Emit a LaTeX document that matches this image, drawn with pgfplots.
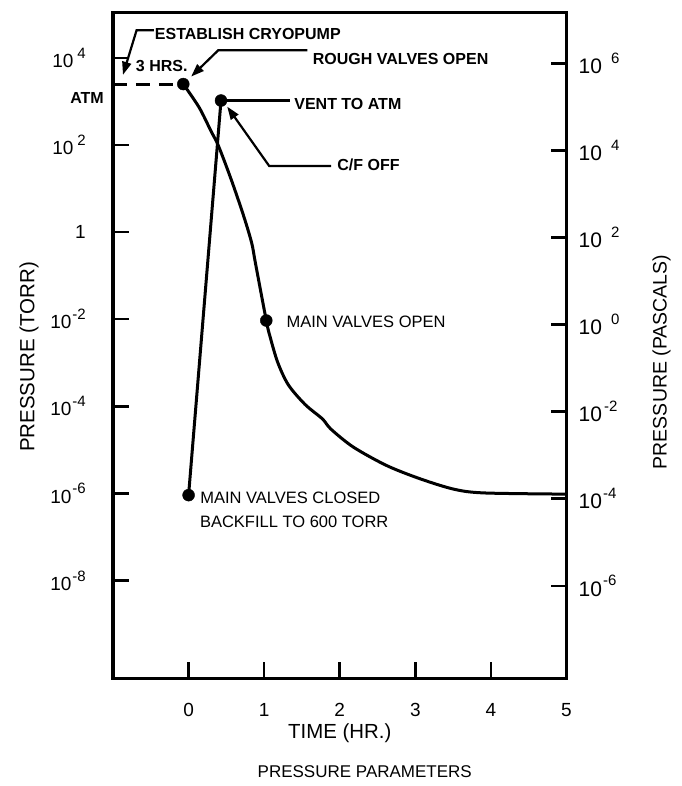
\documentclass[border=0pt]{standalone}
\usepackage{fontspec}
\setmainfont{Liberation Sans}
\usepackage{pgfplots}
\pgfplotsset{compat=1.18}
\usetikzlibrary{arrows.meta}

% 10 with a raised exponent, as typed on the original drawing
\newcommand{\ex}[2]{10\hspace{#1}\raisebox{0.48em}{\fontsize{15}{15}\selectfont #2}}

\begin{document}
\begin{tikzpicture}[ann/.style={font=\fontsize{16.5}{18}\selectfont, inner sep=0pt},
  annb/.style={font=\fontsize{16}{18}\selectfont\bfseries, inner sep=0pt},
  lead/.style={line width=2.2pt, -{Triangle[length=13pt,width=9pt]}}]
\begin{axis}[scale only axis, width=453.5pt, height=665pt,
  ymode=log, xmin=-1, xmax=5, clip=false, axis line style={line width=3pt},
  tick align=inside, major tick length=16pt,
  tick style={black, line width=2.6pt}, minor tick num=0,
  ymin=5.754e-11, ymax=1.0715e5,
  xtick={0,1,2,3,4,5}, xticklabels={0,1,2,3,4,5}, xtick pos=bottom,
  ytick={1e-8,1e-6,1e-4,1e-2,1,1e2,1e4},
  yticklabels={\ex{1pt}{-8},\ex{1pt}{-6},\ex{1pt}{-4},\ex{1pt}{-2},1,\ex{4pt}{2},\ex{4pt}{4}},
  ytick pos=left,
  tick label style={font=\fontsize{19}{20}\selectfont},
  yticklabel style={inner sep=0pt, xshift=-27pt},
  xticklabel style={inner sep=0pt, yshift=-25pt}]
\coordinate (tl) at (rel axis cs:0,1);
% pump-down curve
\addplot[line width=3pt, dash pattern=on 14pt off 9pt] coordinates {(-1,2500) (-0.07,2500)};
\addplot[line width=3pt, smooth, tension=0.5] coordinates {
  (-0.07,2500) (0.140,725) (0.296,209) (0.395,95.5) (0.569,15.2) (0.730,2.3)
  (0.835,0.56) (0.884,0.196) (1.028,9.3e-3) (1.074,4.2e-3) (1.179,1.02e-3)
  (1.320,3.1e-4) (1.541,1.1e-4) (1.772,5.1e-5) (1.882,3.0e-5) (2.181,1.15e-5)
  (2.627,4.3e-6) (3.083,2.1e-6) (3.524,1.23e-6) (3.923,1.02e-6) (5,9.6e-7)};
% vent / backfill
\addplot[line width=3pt] coordinates {(0,9.1e-7) (0.429,1047)};
\addplot[only marks, mark=*, mark size=6pt, black] coordinates {
  (-0.07,2500) (0.429,1047) (1.028,9.3e-3) (0,9.1e-7)};

\draw[lead] (axis cs:-0.458,43000) -- (axis cs:-0.688,43000) -- (axis cs:-0.868,4074);
\draw[lead] (axis cs:1.571,15000) -- (axis cs:0.394,15000) -- (axis cs:0.034,3715);
\draw[lead] (axis cs:1.886,33) -- (axis cs:1.066,33) -- (axis cs:0.511,758);
\draw[line width=2.2pt] (axis cs:0.429,1047) -- (axis cs:1.341,1047);

\node[annb, anchor=west] at (axis cs:-0.448,35500) {ESTABLISH CRYOPUMP};
\node[annb] at (axis cs:-0.355,6607) {3 HRS.};
\node[annb, anchor=west] at (axis cs:1.642,9550) {ROUGH VALVES OPEN};
\node[annb, anchor=west] at (axis cs:1.397,891) {VENT TO ATM};
\node[annb, anchor=west] at (axis cs:1.966,34.7) {C/F OFF};
\node[ann, anchor=west] at (axis cs:1.294,8.7e-3) {MAIN VALVES OPEN};
\node[ann, anchor=west] at (axis cs:0.152,7.9e-7) {MAIN VALVES CLOSED};
\node[ann, anchor=west] at (axis cs:0.149,2.24e-7) {BACKFILL TO 600 TORR};
\node[annb, xshift=-26pt] at (axis cs:-1,1202) {ATM};

\node[rotate=90, font=\fontsize{20.5}{22}\selectfont, xshift=-11.5pt, yshift=84pt] at (rel axis cs:0,0.5) {PRESSURE (TORR)};
\node[rotate=90, font=\fontsize{19.5}{22}\selectfont, xshift=-16.5pt, yshift=-95pt] at (rel axis cs:1,0.5) {PRESSURE (PASCALS)};
\node[font=\fontsize{20.4}{22}\selectfont, yshift=-55pt] at (rel axis cs:0.5,0) {TIME (HR.)};
\node[font=\fontsize{17}{19}\selectfont, xshift=25pt, yshift=-94pt] at (rel axis cs:0.5,0) {PRESSURE PARAMETERS};
\end{axis}
\begin{axis}[scale only axis, width=453.5pt, height=665pt,
  ymode=log, xmin=-1, xmax=5, axis line style={line width=3pt},
  tick align=inside, major tick length=16pt,
  tick style={black, line width=2.6pt}, minor tick num=0,
  ymin=7.671e-9, ymax=1.4286e7, xtick=\empty,
  ytick={1e-6,1e-4,1e-2,1,1e2,1e4,1e6},
  yticklabels={\ex{1pt}{-6},\ex{1pt}{-4},\ex{2pt}{-2},\ex{9pt}{0},\ex{9pt}{2},\ex{9pt}{4},\ex{9pt}{6}},
  ytick pos=right, yticklabel pos=right,
  tick label style={font=\fontsize{21}{22}\selectfont},
  yticklabel style={inner sep=0pt, xshift=12pt}]
\end{axis}
\pgfresetboundingbox
\path (tl) ++(-113pt,13pt) rectangle ++(681pt,-786pt);
\end{tikzpicture}
\end{document}
